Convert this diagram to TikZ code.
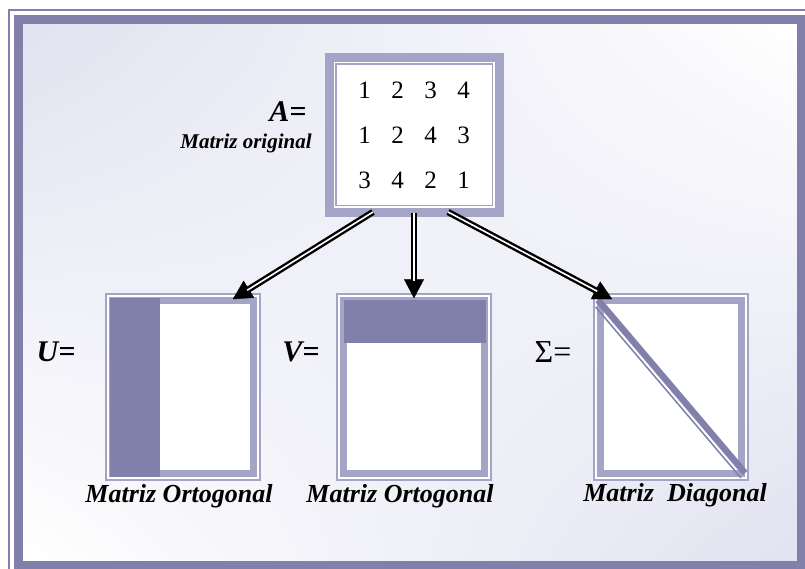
\documentclass[tikz,border=0pt]{standalone}
\usepackage{fontspec}
\setmainfont{Liberation Serif}
\usetikzlibrary{arrows.meta, positioning, calc, shadings}
\definecolor{bandDark}{RGB}{128,128,170}
\definecolor{bandLight}{RGB}{164,164,199}
\definecolor{bgTint}{RGB}{226,226,241}
\begin{document}
\begin{tikzpicture}[x=1pt, y=-1pt,
          srcbox/.style={rectangle, draw=bandLight, line width=9pt, fill=white, minimum width=170pt, minimum height=155pt, inner sep=0pt},
          facbox/.style={rectangle, draw=bandLight, line width=1.5pt, fill=white, minimum width=154pt, minimum height=186pt, inner sep=0pt},
          boxband/.style={draw=bandLight, line width=7pt},
          thinline/.style={draw=bandLight, line width=1.5pt},
          eqlbl/.style={font=\fontsize{30}{36}\selectfont\bfseries\itshape, inner sep=0pt},
          caplbl/.style={font=\fontsize{26}{30}\selectfont\bfseries\itshape, inner sep=0pt},
          arrowhead/.style={-{Triangle[length=19pt, width=20pt]}, line width=0.4pt, draw=black},
          arrowshaft/.style={draw=black, double=white, double distance=1.6pt, line width=2.4pt, shorten >=17pt}]
        \useasboundingbox (0,0) rectangle (805,569);
        \clip (0,0) rectangle (805,569);
        \shade[upper left=bgTint, upper right=white, lower left=white, lower right=bgTint] (23,24) rectangle (797,561);
        \draw[bandDark, line width=2pt] (9,10) rectangle (820,580);
        \draw[bandDark, line width=9pt] (18.5,19.5) rectangle (801.5,565.5);

        \node [srcbox] (A) at (414,135) {\fontsize{25}{45}\selectfont
          \begin{tabular}{@{}c@{\hspace{20.5pt}}c@{\hspace{20.5pt}}c@{\hspace{20.5pt}}c@{}}
            1 & 2 & 3 & 4\\
            1 & 2 & 4 & 3\\
            3 & 4 & 2 & 1
          \end{tabular}};
        \draw [thinline] ([shift={(11.25,11.25)}]A.north west) rectangle ([shift={(-11.25,-11.25)}]A.south east);
        \node [eqlbl] (Albl) at (288,112) {A=};
        \node [font=\fontsize{21}{25}\selectfont\bfseries\itshape, inner sep=0pt] (Acap) at (246,143) {Matriz original};

        \node [facbox] (U) at (183,387) {};
        \node [facbox] (V) at (414,387) {};
        \node [facbox] (S) at (671,387) {};
        \foreach \m in {U,V,S}
          \draw [boxband] ([shift={(7.5,7.5)}]\m.north west) rectangle ([shift={(-7.5,-7.5)}]\m.south east);

        \fill [bandDark] ([shift={(5,5)}]U.north west) rectangle ([shift={(55,-3.5)}]U.south west);
        \fill [bandDark] ([shift={(8,7)}]V.north west) rectangle ([shift={(-6,50)}]V.north east);
        \draw [bandDark, line width=6.5pt] ([shift={(4.75,6.75)}]S.north west) -- ([shift={(-3.75,-7.75)}]S.south east);
        \draw [bandDark, line width=1.5pt] ([shift={(2.4,13.75)}]S.north west) -- ([shift={(-7.75,-2.75)}]S.south east);

        \node [eqlbl] (Ulbl) at (56,352) {U=};
        \node [eqlbl] (Vlbl) at (301,352) {V=};
        \node [font=\fontsize{32}{36}\selectfont, inner sep=0pt] (Slbl) at (553,352) {Σ=};

        \node [caplbl, below=4pt of U, xshift=-4pt] (Ucap) {Matriz Ortogonal};
        \node [caplbl, below=4pt of V, xshift=-14pt] (Vcap) {Matriz Ortogonal};
        \node [caplbl, below=3pt of S, xshift=4pt] (Scap) {Matriz\ \ Diagonal};

        \draw [arrowhead] ([xshift=-41pt, yshift=5pt]A.south) -- ([xshift=-28pt, yshift=-6pt]U.north east);
        \draw [arrowshaft] ([xshift=-41pt, yshift=5pt]A.south) -- ([xshift=-28pt, yshift=-6pt]U.north east);
        \draw [arrowhead] ([yshift=4pt]A.south) -- ([yshift=-5pt]V.north);
        \draw [arrowshaft] ([yshift=4pt]A.south) -- ([yshift=-5pt]V.north);
        \draw [arrowhead] ([xshift=34pt, yshift=5pt]A.south) -- ([xshift=19pt, yshift=-6pt]S.north west);
        \draw [arrowshaft] ([xshift=34pt, yshift=5pt]A.south) -- ([xshift=19pt, yshift=-6pt]S.north west);
      \end{tikzpicture}
\end{document}
